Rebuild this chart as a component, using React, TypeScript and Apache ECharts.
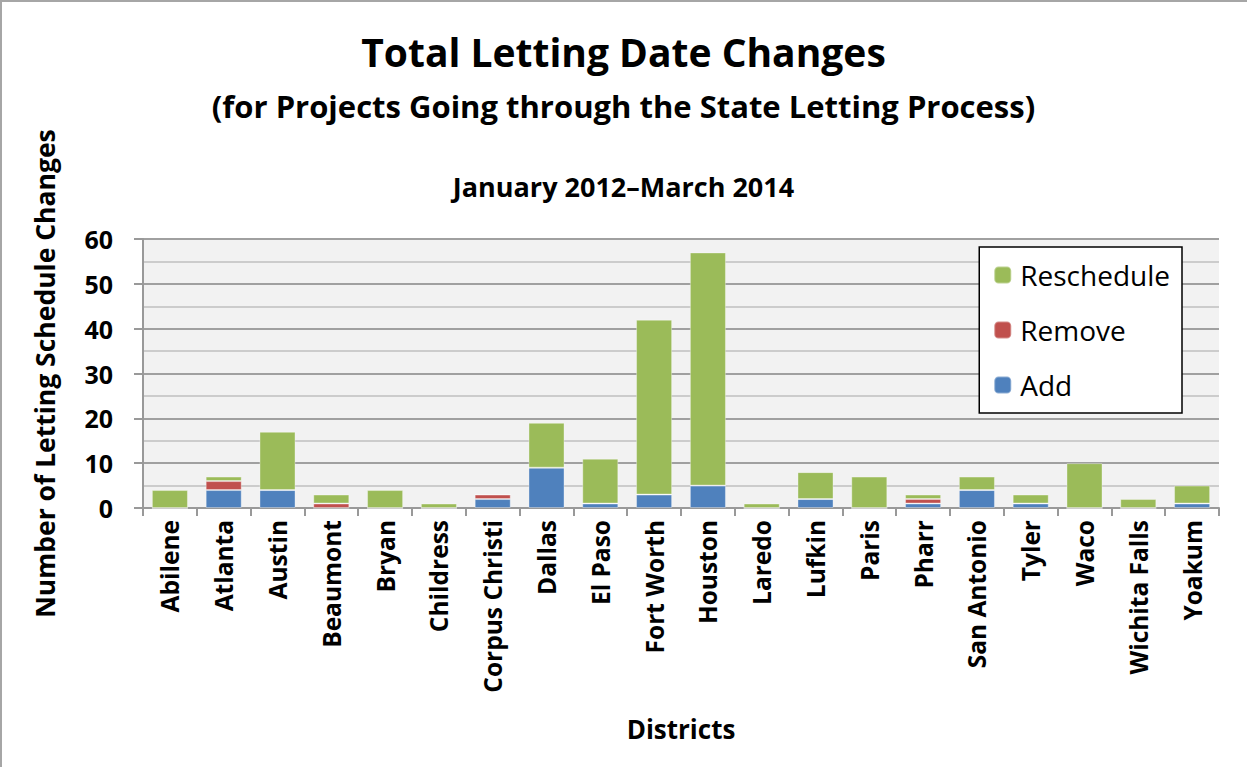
import React, { useEffect, useRef } from "react";
import * as echarts from "echarts";

const districts = [
  "Abilene", "Atlanta", "Austin", "Beaumont", "Bryan", "Childress", "Corpus Christi",
  "Dallas", "El Paso", "Fort Worth", "Houston", "Laredo", "Lufkin", "Paris", "Pharr",
  "San Antonio", "Tyler", "Waco", "Wichita Falls", "Yoakum",
];
const addValues = [0, 4, 4, 0, 0, 0, 2, 9, 1, 3, 5, 0, 2, 0, 1, 4, 1, 0, 0, 1];
const removeValues = [0, 2, 0, 1, 0, 0, 1, 0, 0, 0, 0, 0, 0, 0, 1, 0, 0, 0, 0, 0];
const rescheduleValues = [4, 1, 13, 2, 4, 1, 0, 10, 10, 39, 52, 1, 6, 7, 1, 3, 2, 10, 2, 4];
const yTicks = [0, 10, 20, 30, 40, 50, 60];

const FONT = "'Open Sans', Lato, sans-serif";

export default function App() {
  const ref = useRef<HTMLDivElement>(null);
  useEffect(() => {
    const chart = echarts.init(ref.current!, null, { renderer: "svg" });
    const barStyle = (color: string) => ({
      color,
      borderColor: "rgba(255,255,255,0.35)",
      borderWidth: 1,
    });
    chart.setOption({
      animation: false,
      backgroundColor: "#ffffff",
      textStyle: { fontFamily: FONT },
      title: [
        {
          text: "Total Letting Date Changes",
          left: "center",
          top: 27,
          textStyle: { fontSize: 39, fontWeight: "bold", color: "#000", fontFamily: FONT },
        },
        {
          text: "(for Projects Going through the State Letting Process)",
          left: "center",
          top: 85,
          textStyle: { fontSize: 31, fontWeight: "bold", color: "#000", fontFamily: FONT },
        },
        {
          text: "January 2012\u2013March 2014",
          left: "center",
          top: 168,
          textStyle: { fontSize: 27, fontWeight: "bold", color: "#000", fontFamily: FONT },
        },
      ],
      graphic: [
        { type: "rect", shape: { x: 0, y: 0, width: 1247, height: 2 }, style: { fill: "#a6a6a6" } },
        { type: "rect", shape: { x: 0, y: 0, width: 2, height: 767 }, style: { fill: "#a6a6a6" } },
      ],
      legend: {
        data: ["Reschedule", "Remove", "Add"],
        orient: "vertical",
        right: 65,
        top: 247,
        padding: [14, 12, 14, 14],
        itemGap: 27,
        itemWidth: 17,
        itemHeight: 17,
        backgroundColor: "#ffffff",
        borderColor: "#000000",
        borderWidth: 1.5,
        textStyle: { fontSize: 28, color: "#000", fontFamily: FONT, padding: [0, 0, 0, 4] },
      },
      grid: {
        left: 143,
        right: 28,
        top: 239,
        bottom: 259,
        show: true,
        backgroundColor: "#f2f2f2",
        borderWidth: 0,
      },
      xAxis: {
        type: "category",
        data: districts,
        name: "Districts",
        nameLocation: "middle",
        nameGap: 208,
        nameTextStyle: { fontSize: 26, fontWeight: "bold", color: "#000", fontFamily: FONT },
        axisLine: { lineStyle: { color: "#999999", width: 2 } },
        axisTick: { show: true, length: 8, alignWithLabel: false, lineStyle: { color: "#999999", width: 2 } },
        axisLabel: {
          rotate: 90,
          margin: 12,
          interval: 0,
          fontSize: 24.5,
          fontWeight: "bold",
          color: "#000",
          fontFamily: FONT,
        },
      },
      yAxis: {
        type: "value",
        min: 0,
        max: 60,
        interval: 10,
        name: "Number of Letting Schedule Changes",
        nameLocation: "middle",
        nameGap: 85,
        nameTextStyle: { fontSize: 26.5, fontWeight: "bold", color: "#000", fontFamily: FONT },
        axisLine: { show: true, lineStyle: { color: "#999999", width: 2 } },
        axisTick: { show: true, length: 9, lineStyle: { color: "#999999", width: 2 } },
        axisLabel: {
          margin: 30,
          fontSize: 25,
          fontWeight: "bold",
          color: "#000",
          fontFamily: FONT,
          formatter: (v: number) => (yTicks.includes(v) ? String(v) : ""),
        },
        splitLine: { show: true, lineStyle: { color: "#a0a0a0", width: 2 } },
        minorTick: { show: false, splitNumber: 2 },
        minorSplitLine: { show: true, lineStyle: { color: "#cccccc", width: 2 } },
      },
      series: [
        {
          name: "Add",
          type: "bar",
          stack: "total",
          barWidth: "67%",
          data: addValues,
          itemStyle: barStyle("#4f81bd"),
        },
        {
          name: "Remove",
          type: "bar",
          stack: "total",
          barWidth: "67%",
          data: removeValues,
          itemStyle: barStyle("#c0504d"),
        },
        {
          name: "Reschedule",
          type: "bar",
          stack: "total",
          barWidth: "67%",
          data: rescheduleValues,
          itemStyle: barStyle("#9bbb59"),
        },
      ],
    });
    return () => chart.dispose();
  }, []);
  return (
    <div
      ref={ref}
      style={{ position: "fixed", left: 0, top: 0, width: 1247, height: 767 }}
    />
  );
}
